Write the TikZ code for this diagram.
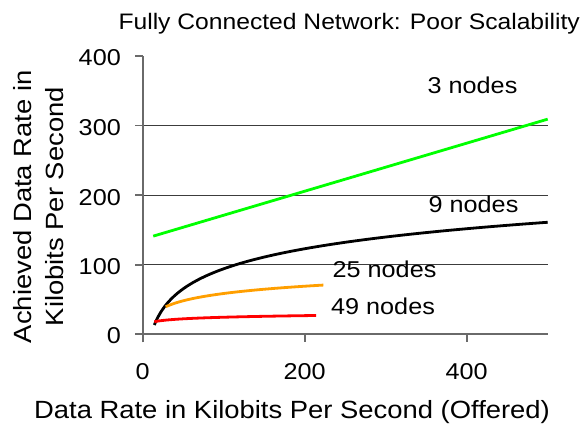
\documentclass[tikz,border=0pt]{standalone}
\usepackage{fontspec}
\newfontfamily\chartfont[FakeStretch=1.1]{Liberation Sans}
\definecolor{axisgray}{HTML}{6A6A6A}
\definecolor{gridgray}{HTML}{3C3C3C}
\definecolor{curvegreen}{HTML}{00FF00}
\definecolor{curveorange}{HTML}{FF9F00}
\definecolor{curvered}{HTML}{FF0000}
\tikzset{
  axisline/.style={draw=axisgray, line width=1.8bp},
  gridline/.style={draw=gridgray, line width=1bp},
  curve/.style={line width=2.8bp},
  ticklab/.style={font=\chartfont\fontsize{23}{27}\selectfont, inner sep=0pt},
  titlelab/.style={font=\chartfont\fontsize{22.5}{27}\selectfont, inner sep=0pt},
  axislab/.style={font=\chartfont\fontsize{25}{30}\selectfont, inner sep=0pt},
}
\begin{document}
\begin{tikzpicture}[x=1bp,y=-1bp]
\useasboundingbox (0,0) rectangle (580,427);
\fill[white] (0,0) rectangle (580,427);

% plot area in data units (x: offered rate, y: achieved rate)
\begin{scope}[shift={(142.7,334.3)}, x=0.81bp, y=0.6963bp]
  \foreach \v in {100,200,300}
    \draw[gridline] (0,\v) -- (500,\v);
  % axes and tick marks
  \draw[axisline] (0,0) -- (500,0);
  \draw[axisline] (0,-11.5) -- (0,400);
  \foreach \v in {0,100,200,300,400}
    \draw[axisline] (0,\v) -- ++(-8bp,0pt);
  \foreach \v in {200,400}
    \draw[axisline] (\v,0) -- ++(0pt,-8bp);
  % series
  \draw[curve, curvegreen] (13,141) -- (500,309);
  \draw[curve, black] plot[domain=14.3:500, samples=120, variable=\t] (\t,{41.5*ln(\t)-97});
  \draw[curve, curveorange] plot[domain=28.4:223, samples=60, variable=\t] (\t,{39.6+15.1*ln(\t/28.4)});
  \draw[curve, curvered] plot[domain=14.3:214, samples=40, variable=\t] (\t,{18.1+3.3*ln(\t/14.3)});
\end{scope}

% tick labels
\node[ticklab, anchor=base east] (y400) at (121,65) {400};
\node[ticklab, anchor=base east] (y300) at (121,135) {300};
\node[ticklab, anchor=base east] (y200) at (121,205) {200};
\node[ticklab, anchor=base east] (y100) at (121,274.3) {100};
\node[ticklab, anchor=base east] (y0) at (121,343.5) {0};
\node[ticklab, anchor=base] (x0) at (142.7,379.3) {0};
\node[ticklab, anchor=base] (x200) at (304.7,379.3) {200};
\node[ticklab, anchor=base] (x400) at (466.7,379.3) {400};

% series labels
\node[ticklab, anchor=base west] (n3) at (427.5,93.3) {3 nodes};
\node[ticklab, anchor=base west] (n9) at (428.5,212.7) {9 nodes};
\node[ticklab, anchor=base west] (n25) at (332.5,277.3) {25 nodes};
\node[ticklab, anchor=base west] (n49) at (331,314) {49 nodes};

% titles
\node[titlelab, anchor=base west] (title) at (118.3,29.3) {Fully Connected Network: Poor Scalability};
\node[axislab, anchor=base] (xtitle) at (292,418.3) {Data Rate in Kilobits Per Second (Offered)};
\node[axislab, anchor=base, rotate=90] (ytitle1) at (31.7,206.7) {Achieved Data Rate in};
\node[axislab, anchor=base, rotate=90] (ytitle2) at (63.3,206.7) {Kilobits Per Second};
\end{tikzpicture}
\end{document}
